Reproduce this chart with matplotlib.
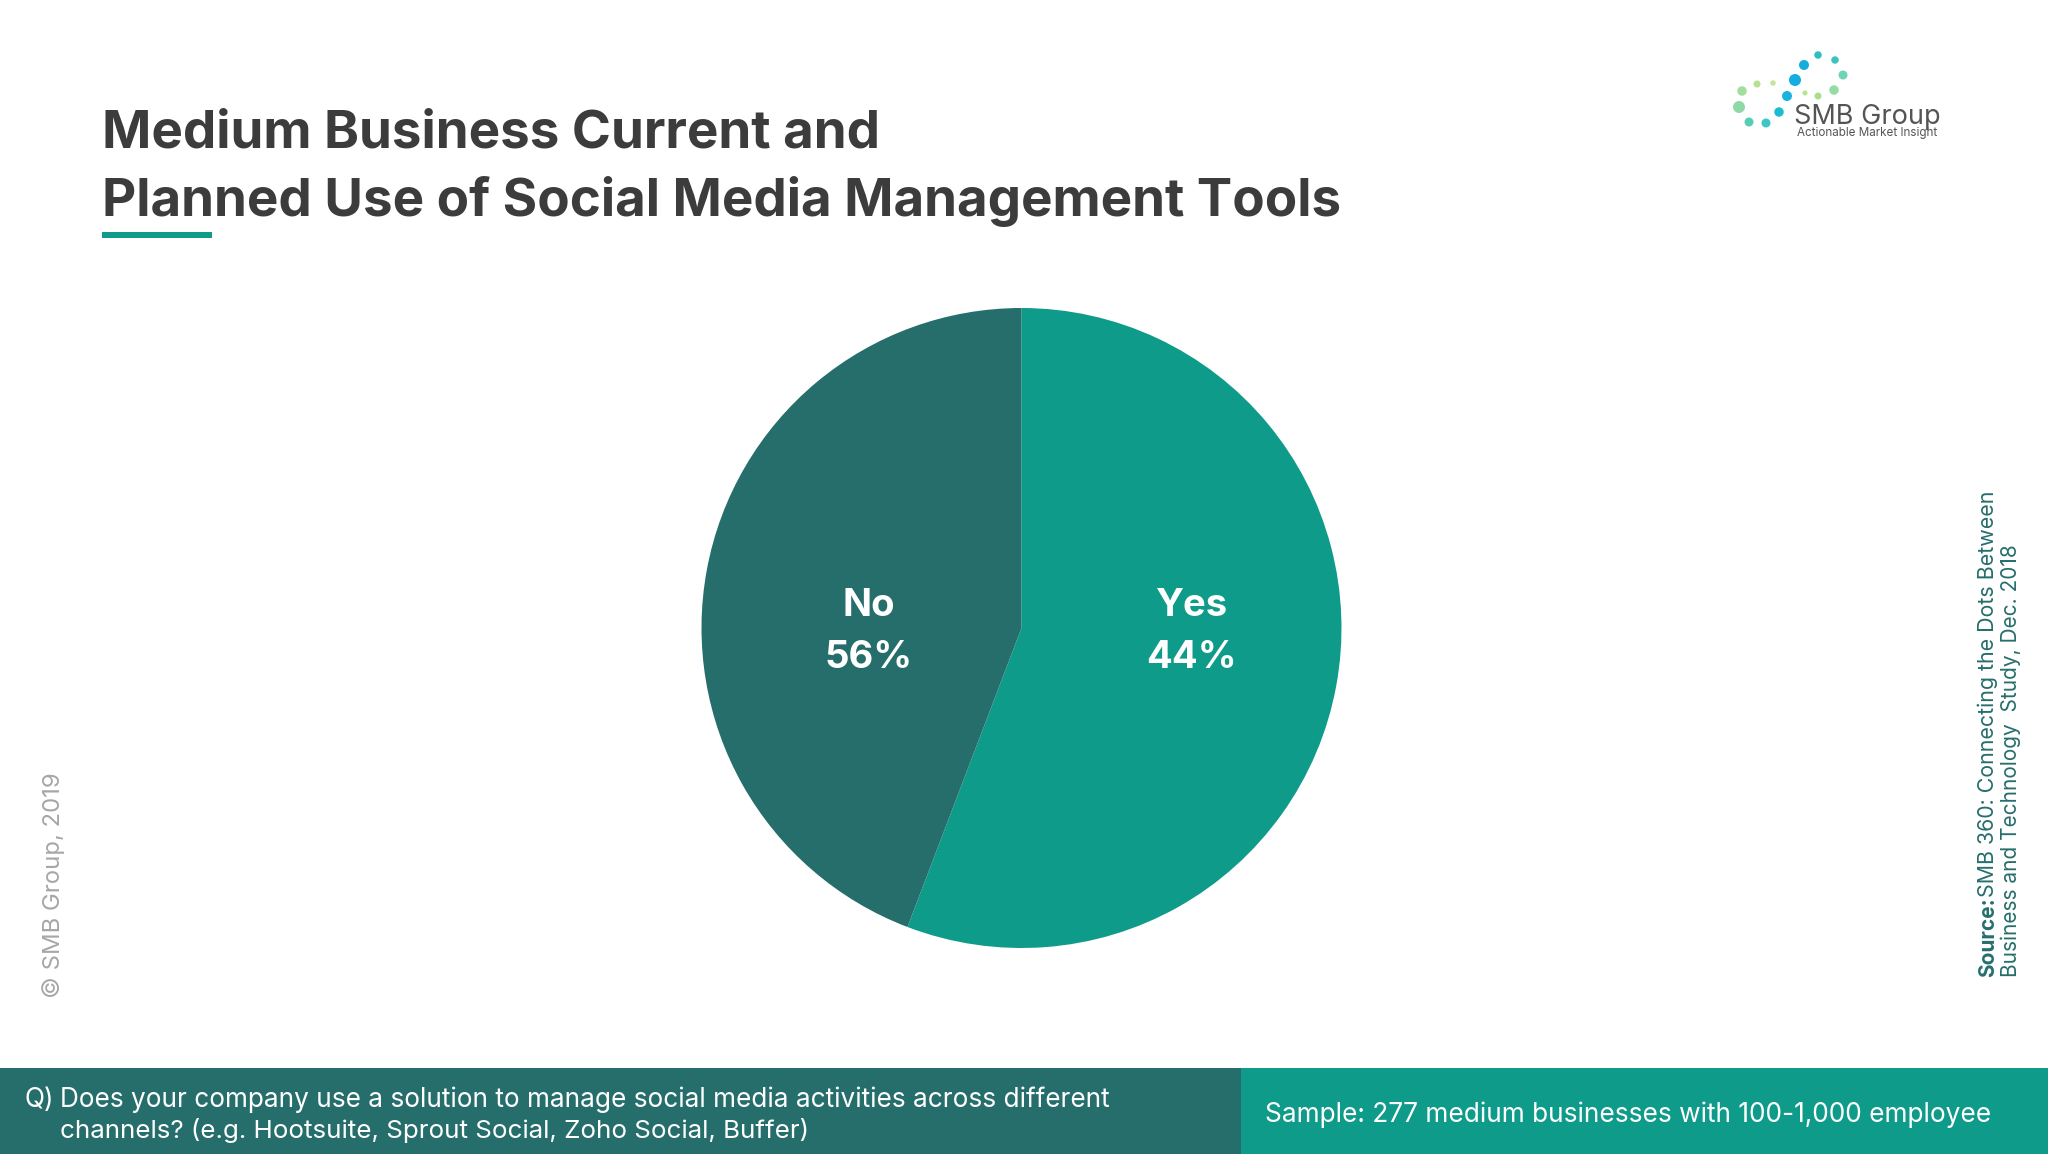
import matplotlib
matplotlib.use("Agg")
import matplotlib.pyplot as plt
from matplotlib.patches import Rectangle

# Data
slice_names = ["Yes", "No"]
slice_values = [55.8, 44.2]      # angular extent as drawn in the picture
slice_colors = ["#0F9B8A", "#266E6C"]
printed_labels = ["Yes\n44%", "No\n56%"]

title_lines = ["Medium Business Current and", "Planned Use of Social Media Management Tools"]
question_lines = ["Does your company use a solution to manage social media activities across different",
                  "channels? (e.g. Hootsuite, Sprout Social, Zoho Social, Buffer)"]
sample_text = "Sample: 277 medium businesses with 100-1,000 employee"
copyright_text = "© SMB Group, 2019"

logo_x = [1818, 1835, 1843, 1834, 1818, 1805, 1804, 1795, 1787, 1779, 1773, 1757, 1742, 1739, 1749, 1766]
logo_y = [55, 60, 75, 90, 96, 93, 65, 80, 96, 112, 83, 84, 91, 107, 122, 123]
logo_d = [7.5, 7.5, 9, 9.5, 7, 5, 10, 12, 10, 9.5, 5.5, 7, 9.5, 12, 9, 9]
logo_c = ["#2EBFC4", "#3CC4BC", "#6FD3B5", "#92DDA6", "#A6E08F", "#B8E48E", "#15AEDC", "#14AEE0",
          "#18B4E0", "#1FBBD0", "#C2E69A", "#B4E292", "#A3DE9C", "#8FD8A8", "#58CDB6", "#3CC6C4"]

plt.rcParams["font.family"] = ["Inter", "DejaVu Sans"]

fig = plt.figure(figsize=(20.48, 11.54), dpi=100, facecolor="white")

# Overlay in pixel coordinates
bg = fig.add_axes([0, 0, 1, 1])
bg.set_xlim(0, 2048)
bg.set_ylim(1154, 0)
bg.axis("off")

# Title
TITLE = "#3C3C3C"
bg.text(102, 147, title_lines[0], fontsize=38.1, fontweight="bold", color=TITLE, va="baseline")
bg.text(102, 216, title_lines[1], fontsize=38.1, fontweight="bold", color=TITLE, va="baseline")
bg.add_patch(Rectangle((102, 232), 110, 6, color=slice_colors[0], lw=0))

# Pie
R = 320
cx, cy = 1021.5, 628
pie_ax = fig.add_axes([(cx - R) / 2048, 1 - (cy + R) / 1154, 2 * R / 2048, 2 * R / 1154])
pie_ax.pie(slice_values, colors=slice_colors, startangle=90, counterclock=False, radius=1,
           wedgeprops={"linewidth": 0})
pie_ax.set_xlim(-1, 1)
pie_ax.set_ylim(-1, 1)
pie_ax.set_aspect("equal")

bg.set_zorder(2)
bg.patch.set_alpha(0)
# Slice labels
bg.text(1191, 632, printed_labels[0], fontsize=27.5, fontweight="bold", color="white",
        ha="center", va="center", linespacing=1.54)
bg.text(869, 632, printed_labels[1], fontsize=27.5, fontweight="bold", color="white",
        ha="center", va="center", linespacing=1.54)

# Side texts
bg.text(54, 998, copyright_text, rotation=90, fontsize=17.2, color="#A6A6A6", ha="center", va="bottom")
SRC = "#266E6C"
bg.text(1988, 977, "Source:", rotation=90, fontsize=15, fontweight="bold", color=SRC, ha="center", va="bottom")
bg.text(1988, 897, "SMB 360: Connecting the Dots Between", rotation=90, fontsize=15.4, color=SRC,
        ha="center", va="bottom")
bg.text(2011, 977, "Business and Technology  Study, Dec. 2018", rotation=90, fontsize=15, color=SRC,
        ha="center", va="bottom")

# Bottom bar
bg.add_patch(Rectangle((0, 1068), 1241, 86, color=slice_colors[1], lw=0))
bg.add_patch(Rectangle((1241, 1068), 807, 86, color=slice_colors[0], lw=0))
bg.text(24, 1107, "Q)", fontsize=18.9, color="white", va="baseline")
bg.text(60, 1107, question_lines[0], fontsize=18.85, color="white", va="baseline")
bg.text(60, 1138, question_lines[1], fontsize=18.68, color="white", va="baseline")
bg.text(1265, 1122, sample_text, fontsize=18.9, color="white", va="baseline")

# Logo
bg.scatter(logo_x, logo_y, s=[(d * 0.72) ** 2 for d in logo_d], c=logo_c, linewidths=0)
bg.text(1794, 124, "SMB Group", fontsize=19.5, color="#555555", va="baseline")
bg.text(1797, 136, "Actionable Market Insight", fontsize=8.4, color="#555555", va="baseline")

fig.savefig("out.png", dpi=100)
